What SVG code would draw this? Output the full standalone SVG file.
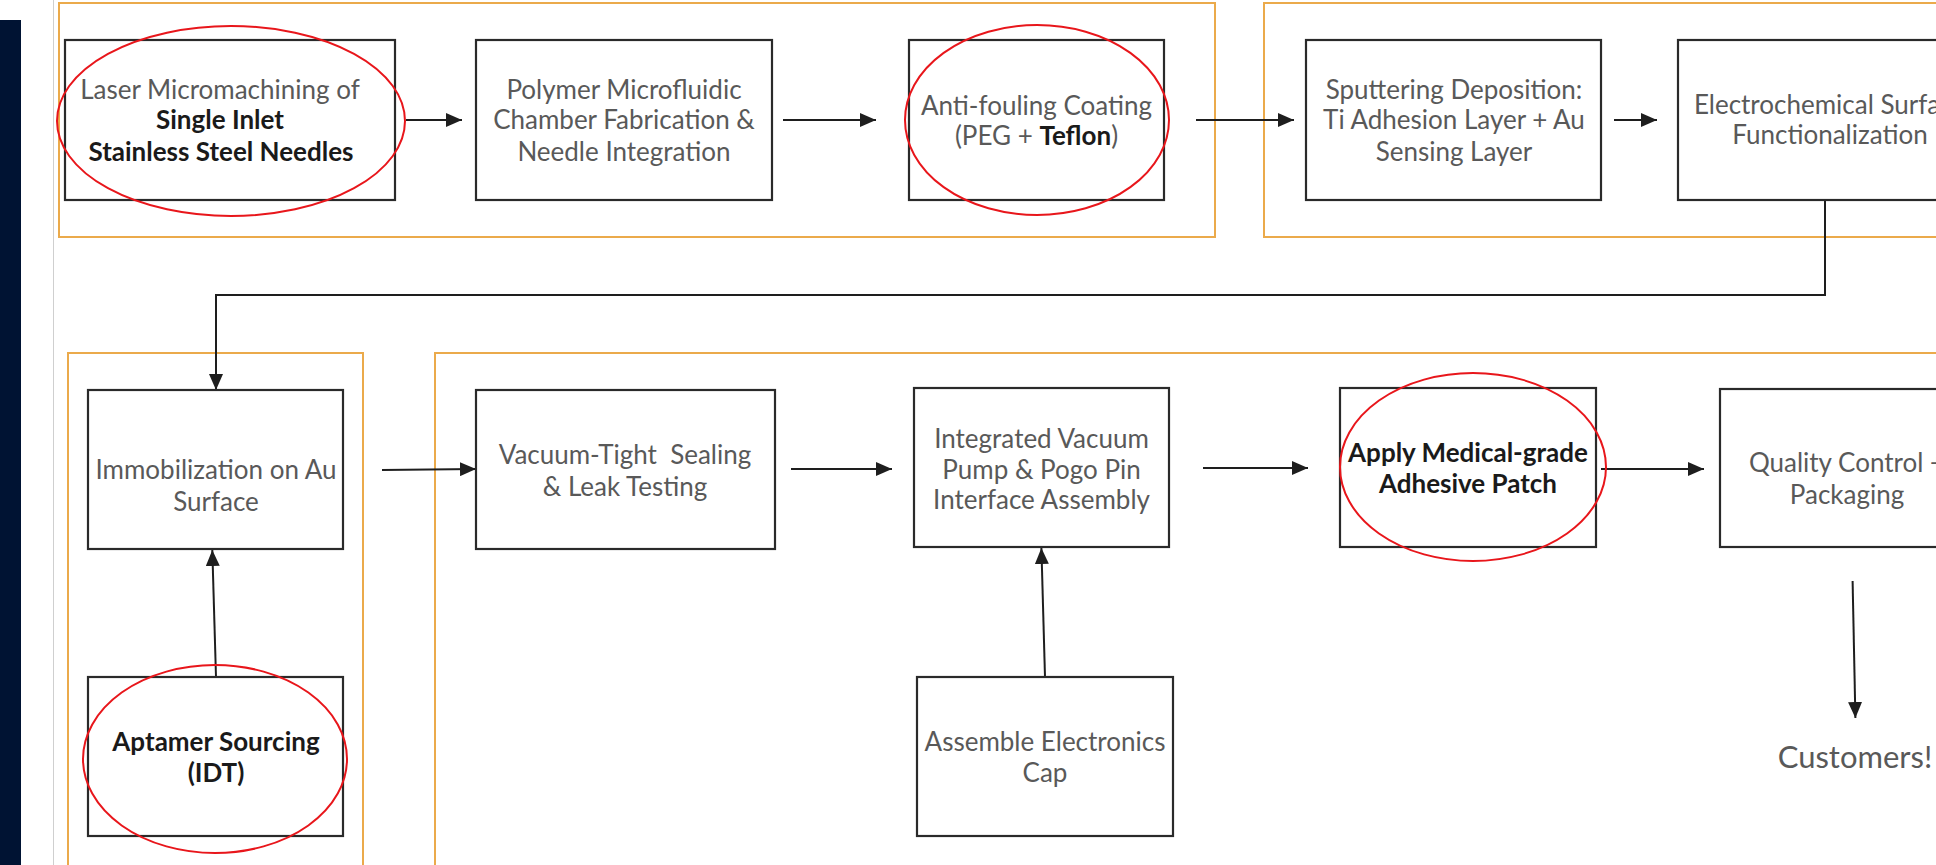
<svg xmlns="http://www.w3.org/2000/svg" width="1936" height="865" viewBox="0 0 1936 865">
<style>
.grp{fill:none;stroke:#EBAA4B;stroke-width:2}
.box{fill:#fff;stroke:#2a2a2a;stroke-width:2.2}
.ring{fill:none;stroke:#E8161B;stroke-width:2}
.con{fill:none;stroke:#1e1e1e;stroke-width:2}
text{font-family:Lato,"Open Sans","Liberation Sans",sans-serif;font-size:26px;fill:#595959;text-anchor:middle}
.b{font-weight:700;fill:#1a1a1a}
.big{font-size:31px}
</style>
<defs>
<marker id="ah" markerUnits="userSpaceOnUse" markerWidth="16" markerHeight="14" refX="16" refY="7" orient="auto">
<path d="M0,0 L16,7 L0,14 z" fill="#1e1e1e"/>
</marker>
</defs>
<rect width="1936" height="865" fill="#fff"/>
<rect x="0" y="20" width="21" height="845" fill="#001333"/>
<line x1="53.5" y1="0" x2="53.5" y2="865" stroke="#cfcfcf" stroke-width="1"/>
<g id="groups">
<rect class="grp" x="59" y="3" width="1156" height="234"/>
<rect class="grp" x="1264" y="3" width="800" height="234"/>
<rect class="grp" x="68" y="353" width="295" height="600"/>
<rect class="grp" x="435" y="353" width="1600" height="600"/>
</g>
<g id="connectors">
<line class="con" x1="406" y1="120" x2="462" y2="120" marker-end="url(#ah)"/>
<line class="con" x1="783" y1="120" x2="876" y2="120" marker-end="url(#ah)"/>
<line class="con" x1="1196" y1="120" x2="1294" y2="120" marker-end="url(#ah)"/>
<line class="con" x1="1614" y1="120" x2="1657" y2="120" marker-end="url(#ah)"/>
<path class="con" d="M1825,200 V295 H216 V390" marker-end="url(#ah)"/>
<line class="con" x1="216" y1="677" x2="212.3" y2="550" marker-end="url(#ah)"/>
<line class="con" x1="382" y1="470" x2="476" y2="469" marker-end="url(#ah)"/>
<line class="con" x1="791" y1="469" x2="892" y2="469" marker-end="url(#ah)"/>
<line class="con" x1="1045" y1="677" x2="1041.4" y2="548" marker-end="url(#ah)"/>
<line class="con" x1="1203" y1="468" x2="1308" y2="468" marker-end="url(#ah)"/>
<line class="con" x1="1601" y1="469" x2="1704" y2="469" marker-end="url(#ah)"/>
<line class="con" x1="1852.6" y1="581" x2="1855.4" y2="718" marker-end="url(#ah)"/>
</g>
<g id="n-laser">
<rect class="box" x="65" y="40" width="330" height="160"/>
<text x="220" y="99">Laser Micromachining of</text>
<text class="b" x="220" y="129">Single Inlet</text>
<text class="b" x="221" y="160.5">Stainless Steel Needles</text>
</g>
<g id="n-polymer">
<rect class="box" x="476" y="40" width="296" height="160"/>
<text x="624" y="99">Polymer Microfluidic</text>
<text x="624" y="129">Chamber Fabrication &amp;</text>
<text x="624" y="160.5">Needle Integration</text>
</g>
<g id="n-antifouling">
<rect class="box" x="909" y="40" width="255" height="160"/>
<text x="1036.5" y="115">Anti-fouling Coating</text>
<text x="1036.5" y="145">(PEG + <tspan class="b">Teflon</tspan>)</text>
</g>
<g id="n-sputtering">
<rect class="box" x="1306" y="40" width="295" height="160"/>
<text x="1454" y="99">Sputtering Deposition:</text>
<text x="1454" y="129">Ti Adhesion Layer + Au</text>
<text x="1454" y="160.5">Sensing Layer</text>
</g>
<g id="n-electrochem">
<rect class="box" x="1678" y="40" width="305" height="160"/>
<text x="1830" y="114">Electrochemical Surface</text>
<text x="1830" y="144">Functionalization</text>
</g>
<g id="n-immob">
<rect class="box" x="88" y="390" width="255" height="159"/>
<text x="216" y="479">Immobilization on Au</text>
<text x="216" y="510.5">Surface</text>
</g>
<g id="n-aptamer">
<rect class="box" x="88" y="677" width="255" height="159"/>
<text class="b" x="216" y="750.5">Aptamer Sourcing</text>
<text class="b" x="216" y="781.5">(IDT)</text>
</g>
<g id="n-vacuum">
<rect class="box" x="476" y="390" width="299" height="159"/>
<text x="625" y="464">Vacuum-Tight&#160; Sealing</text>
<text x="625" y="495.5">&amp; Leak Testing</text>
</g>
<g id="n-integrated">
<rect class="box" x="914" y="388" width="255" height="159"/>
<text x="1041.5" y="447.5">Integrated Vacuum</text>
<text x="1041.5" y="478.5">Pump &amp; Pogo Pin</text>
<text x="1041.5" y="509">Interface Assembly</text>
</g>
<g id="n-assemble">
<rect class="box" x="917" y="677" width="256" height="159"/>
<text x="1045" y="750.5">Assemble Electronics</text>
<text x="1045" y="782">Cap</text>
</g>
<g id="n-apply">
<rect class="box" x="1340" y="388" width="256" height="159"/>
<text class="b" x="1468" y="462">Apply Medical-grade</text>
<text class="b" x="1468" y="493">Adhesive Patch</text>
</g>
<g id="n-qc">
<rect class="box" x="1720" y="389" width="254" height="158"/>
<text x="1847" y="472">Quality Control +</text>
<text x="1847" y="504">Packaging</text>
</g>
<g id="n-customers">
<text class="big" x="1855" y="768">Customers!</text>
</g>
<g id="highlights">
<ellipse class="ring" cx="231" cy="121" rx="174" ry="95"/>
<ellipse class="ring" cx="1037" cy="120" rx="132" ry="95"/>
<ellipse class="ring" cx="215" cy="759" rx="132" ry="94"/>
<ellipse class="ring" cx="1473" cy="467" rx="133" ry="94"/>
</g>
</svg>
